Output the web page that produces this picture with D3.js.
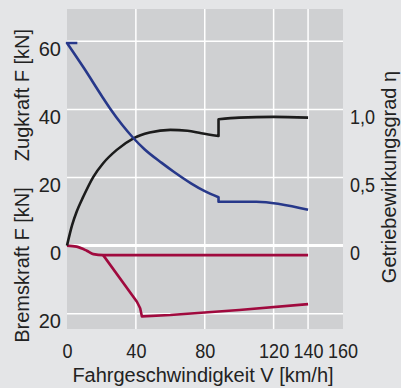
<!DOCTYPE html>
<html>
<head>
<meta charset="utf-8">
<script src="https://cdn.jsdelivr.net/npm/d3@7"></script>
<style>
    body { margin: 0; background: #e4e5e7; }
    svg { display: block; font-family: 'Liberation Sans', Arial, sans-serif; }
    .axis text { font-size: 20px; fill: #222; }
    .title { font-size: 20px; fill: #222; }
</style>
</head>
<body>
<svg width="401" height="388"></svg>
<script>
'use strict';

// ticks
var xTicks = [0, 40, 80, 120, 140, 160];
var xGrid = [40, 80, 120, 140];
var yTicks = [60, 40, 20, 0, -20];
var yTickLabels = ['60', '40', '20', '0', '20'];
var etaTicks = [1.0, 0.5, 0];
var etaTickLabels = ['1,0', '0,5', '0'];

// Zugkraft [km/h, kN] (blue), split at the gear step
var zugkraftFlag = [[6, 59.5], [0, 59.5]];
var zugkraftLow = [[0, 59.5], [10, 52], [20, 44.1], [25, 40.3], [32, 35.5], [38, 31.9], [45, 28.3],
    [55, 24.3], [62, 21.7], [72, 18.3], [80, 16], [88, 14.2]];
var zugkraftHigh = [[88, 12.9], [110, 12.9], [140, 10.5]];

// Getriebewirkungsgrad eta (black)
var etaLow = [[0, 0], [3, 0.152], [5.6, 0.248], [9.5, 0.36], [15.3, 0.505], [21, 0.605], [28.9, 0.703],
    [38.6, 0.788], [48, 0.83], [60, 0.85], [70, 0.843], [78, 0.825], [88, 0.805]];
var etaHigh = [[88, 0.928], [100, 0.94], [120, 0.945], [140, 0.94]];

// Bremskraft [km/h, kN] (red), drawn downwards
var bremsOben = [[0, 0], [5.6, -0.3], [11.5, -1.5], [15.3, -2.5], [21, -2.8], [140, -2.8]];
var bremsUnten = [[21, -2.8], [40.6, -16.5], [42.5, -18.4], [43.5, -20.8], [60, -20.4], [100, -18.9], [140, -17.2]];

var svg = d3.select('svg'),
    plotLeft = 67, plotRight = 343, plotTop = 9, plotBottom = 329;

var x = d3.scaleLinear().domain([0, 160]).range([plotLeft, 342.5]);
var y = d3.scaleLinear().domain([-24.5, 69.5]).range([plotBottom, plotTop]);
var yEta = d3.scaleLinear().domain([-24.5 / 40, 69.5 / 40]).range([plotBottom, plotTop]);

// plot background
svg.append('rect')
    .attr('x', plotLeft)
    .attr('y', plotTop)
    .attr('width', plotRight - plotLeft)
    .attr('height', plotBottom - plotTop)
    .attr('fill', '#cfd0d2');

// grid
svg.append('g').selectAll('line')
    .data(yTicks)
    .enter()
    .append('line')
    .attr('x1', plotLeft)
    .attr('x2', plotRight)
    .attr('y1', function(d) { return y(d); })
    .attr('y2', function(d) { return y(d); })
    .attr('stroke', '#fff')
    .attr('stroke-width', function(d) { return d === 0 ? 3 : 1.5; });

svg.append('g').selectAll('line')
    .data(xGrid)
    .enter()
    .append('line')
    .attr('x1', function(d) { return x(d); })
    .attr('x2', function(d) { return x(d); })
    .attr('y1', plotTop)
    .attr('y2', plotBottom)
    .attr('stroke', '#fff')
    .attr('stroke-width', 1.5);

// axes
var axisL = svg.append('g')
    .attr('class', 'axis')
    .attr('transform', 'translate(' + plotLeft + ',0)')
    .call(d3.axisLeft(y).tickValues(yTicks).tickSize(0).tickPadding(6)
        .tickFormat(function(d, i) { return yTickLabels[i]; }));

var axisR = svg.append('g')
    .attr('class', 'axis')
    .attr('transform', 'translate(' + plotRight + ',0)')
    .call(d3.axisRight(yEta).tickValues(etaTicks).tickSize(0).tickPadding(7)
        .tickFormat(function(d, i) { return etaTickLabels[i]; }));

var axisB = svg.append('g')
    .attr('class', 'axis')
    .attr('transform', 'translate(0,' + plotBottom + ')')
    .call(d3.axisBottom(x).tickValues(xTicks).tickSize(0).tickPadding(15));

[axisL, axisR, axisB].forEach(function(a) {
    a.select('.domain').remove();
    a.attr('font-size', null).attr('font-family', null);
});
axisL.selectAll('text').attr('dy', '0.7em');
axisR.selectAll('text').attr('dy', '0.7em');

// the original digits are condensed
[axisR, axisB].forEach(function(a) {
    a.selectAll('text').each(function() {
        var w = this.getComputedTextLength();
        d3.select(this)
            .attr('textLength', w * 0.9)
            .attr('lengthAdjust', 'spacingAndGlyphs');
    });
});

// titles
svg.append('text')
    .attr('class', 'title')
    .attr('transform', 'translate(29,95) rotate(-90)')
    .attr('text-anchor', 'middle')
    .text('Zugkraft F [kN]');

svg.append('text')
    .attr('class', 'title')
    .attr('transform', 'translate(29,265) rotate(-90)')
    .attr('text-anchor', 'middle')
    .text('Bremskraft F [kN]');

svg.append('text')
    .attr('class', 'title')
    .attr('transform', 'translate(396,177) rotate(-90)')
    .attr('text-anchor', 'middle')
    .text('Getriebewirkungsgrad η');

svg.append('text')
    .attr('class', 'title')
    .attr('x', 203)
    .attr('y', 382)
    .attr('text-anchor', 'middle')
    .text('Fahrgeschwindigkeit V [km/h]');

// curves: parts joined into one path, steps are straight joins
function curvePath(parts, yScale, curve) {
    var line = d3.line()
        .x(function(d) { return x(d[0]); })
        .y(function(d) { return yScale(d[1]); })
        .curve(curve);
    return parts.map(function(p, i) {
        var s = line(p);
        return i ? 'L' + s.slice(1) : s;
    }).join('');
}

function drawCurve(d, color) {
    svg.append('path')
        .attr('d', d)
        .attr('fill', 'none')
        .attr('stroke', color)
        .attr('stroke-width', 2.6)
        .attr('stroke-linejoin', 'round');
}

drawCurve(curvePath([bremsUnten], y, d3.curveLinear), '#a00a3e');
drawCurve(curvePath([bremsOben], y, d3.curveMonotoneX), '#a00a3e');
drawCurve(curvePath([etaLow, etaHigh], yEta, d3.curveMonotoneX), '#1c1c1c');
drawCurve(curvePath([zugkraftFlag, zugkraftLow, zugkraftHigh], y, d3.curveMonotoneX), '#27388a');
</script>
</body>
</html>
